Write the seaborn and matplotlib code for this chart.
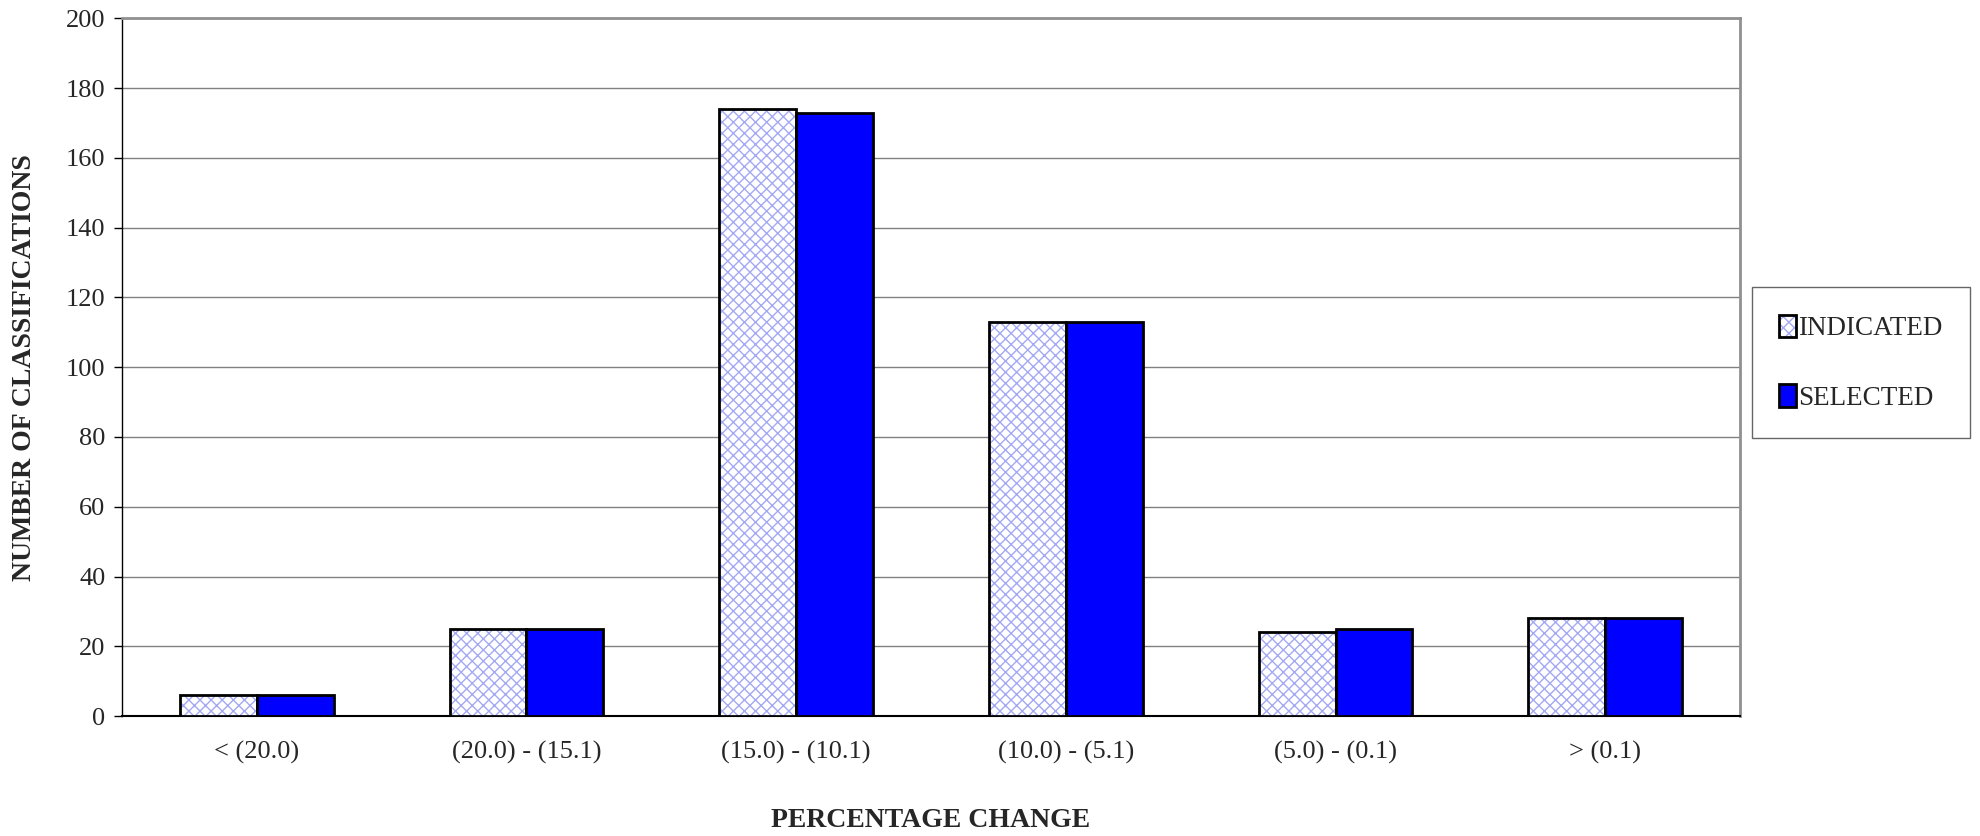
import matplotlib
matplotlib.use("Agg")
import matplotlib.pyplot as plt
from matplotlib.patches import Patch, Rectangle
import seaborn as sns
import pandas as pd

ranges = ["< (20.0)", "(20.0) - (15.1)", "(15.0) - (10.1)",
          "(10.0) - (5.1)", "(5.0) - (0.1)", "> (0.1)"]
indicated = [6, 25, 174, 113, 24, 28]
selected = [6, 25, 173, 113, 25, 28]
series = ["INDICATED", "SELECTED"]

df = pd.DataFrame({
    "range": ranges * 2,
    "count": indicated + selected,
    "series": [series[0]] * len(ranges) + [series[1]] * len(ranges),
})

sns.set_style("white")
plt.rcParams["font.family"] = ["Liberation Serif", "DejaVu Serif"]
plt.rcParams["hatch.linewidth"] = 1.0

fig = plt.figure(figsize=(19.8, 8.36), dpi=100)
ax = fig.add_axes([0.0616, 0.1435, 0.8172, 0.8345])

blue = "#0000ff"
wave = "#a4a9f4"
sns.barplot(data=df, x="range", y="count", hue="series", order=ranges,
            hue_order=series, palette={"INDICATED": "white", "SELECTED": blue},
            width=0.57, gap=0, saturation=1, edgecolor="black", linewidth=2,
            legend=False, ax=ax, zorder=3)

# patterned bars: hatch in light blue, then a black outline on top
for p in ax.containers[0]:
    p.set_facecolor("white")
    p.set_edgecolor(wave)
    p.set_hatch("xxx")
    p.set_linewidth(0)
    ax.add_patch(Rectangle(p.get_xy(), p.get_width(), p.get_height(),
                           fill=False, edgecolor="black", linewidth=2, zorder=4))

ax.set_xlim(-0.5, len(ranges) - 0.5)
ax.set_ylim(0, 200)
ax.set_yticks(range(0, 201, 20))
ax.yaxis.grid(True, color="#808080", linewidth=1)
ax.set_axisbelow(True)

ax.set_xticks([i - 0.5 for i in range(len(ranges) + 1)], minor=True)
ax.tick_params(axis="x", which="major", length=0, pad=18, labelsize=19)
ax.tick_params(axis="x", which="minor", length=8, width=1, color="#808080", direction="out")
ax.tick_params(axis="y", length=6, width=1, color="black", direction="out", pad=6, labelsize=19)
ax.tick_params(bottom=True, left=True)

for side in ["top", "right"]:
    ax.spines[side].set_color("#909090")
    ax.spines[side].set_linewidth(2)
ax.spines["left"].set_color("black")
ax.spines["left"].set_linewidth(1)
ax.spines["bottom"].set_color("black")
ax.spines["bottom"].set_linewidth(1.5)

ax.set_xlabel("PERCENTAGE CHANGE", fontsize=20, fontweight="bold", va="center")
ax.xaxis.set_label_coords(0.5, -0.15)
ax.set_ylabel("NUMBER OF CLASSIFICATIONS", fontsize=20, fontweight="bold", va="center")
ax.yaxis.set_label_coords(-0.06, 0.5)

handles = [
    (Patch(facecolor="white", edgecolor=wave, hatch="xxx", linewidth=0),
     Patch(facecolor="none", edgecolor="black", linewidth=2)),
    Patch(facecolor=blue, edgecolor="black", linewidth=2),
]
leg = fig.legend(handles, series, loc="center left", bbox_to_anchor=(0.885, 0.566),
                 fontsize=19.5, frameon=True, fancybox=False, handlelength=0.6,
                 handleheight=0.9, handletextpad=0.1, labelspacing=1.6,
                 borderpad=1.0, borderaxespad=0)
leg.get_frame().set_edgecolor("#404040")
leg.get_frame().set_linewidth(1)

fig.savefig("out.png", dpi=100)
